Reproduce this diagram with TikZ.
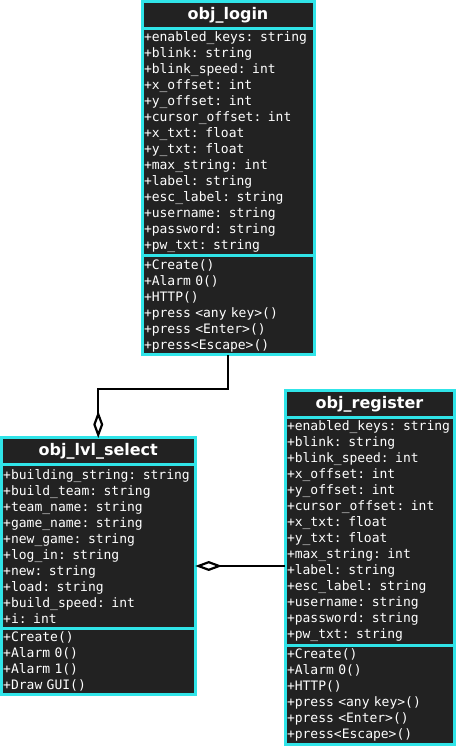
\documentclass[tikz,border=0pt]{standalone}
\usepackage{fontspec}
\setmainfont{DejaVu Sans}
\setmonofont{DejaVu Sans Mono}
\usetikzlibrary{positioning, arrows.meta, calc}
\definecolor{umlcyan}{RGB}{48,228,232}
\definecolor{umldark}{RGB}{34,34,34}

\begin{document}
\begin{tikzpicture}[x=1bp, y=1bp,
    classname/.style={draw=umlcyan, fill=umldark, line width=3bp, outer sep=0pt, text=white, font=\bfseries\fontsize{16bp}{18bp}\selectfont, align=center, text width=#1, inner xsep=2bp, inner ysep=0pt, minimum height=27bp},
    members/.style 2 args={draw=umlcyan, fill=umldark, line width=3bp, outer sep=0pt, text=white, font=\ttfamily\fontsize{13bp}{16bp}\selectfont, align=left, text width=#1, inner xsep=2bp, inner ysep=0pt, minimum height=#2},
    aggregation/.style={-{Diamond[open, length=27bp, width=10bp]}, line width=2.2bp, black}]
    \useasboundingbox (0, 0) rectangle (458, 748);

    % obj_login
    \node (loginname) [classname=168bp, anchor=north] at (228, 746) {obj\_login};
    \node (loginattr) [members={168bp}{227bp}, below=0pt of loginname] {+enabled\_keys: string\\+blink: string\\+blink\_speed: int\\+x\_offset: int\\+y\_offset: int\\+cursor\_offset: int\\+x\_txt: float\\+y\_txt: float\\+max\_string: int\\+label: string\\+esc\_label: string\\+username: string\\+password: string\\+pw\_txt: string};
    \node (loginmeth) [members={168bp}{99bp}, below=0pt of loginattr] {+Create()\\+Alarm 0()\\+HTTP()\\+press <any key>()\\+press <Enter>()\\+press<Escape>()};

    % obj_lvl_select
    \node (lvlname) [classname=190bp, anchor=north] at (98.25, 310) {obj\_lvl\_select};
    \node (lvlattr) [members={190bp}{163bp}, below=0pt of lvlname] {+building\_string: string\\+build\_team: string\\+team\_name: string\\+game\_name: string\\+new\_game: string\\+log\_in: string\\+new: string\\+load: string\\+build\_speed: int\\+i: int};
    \node (lvlmeth) [members={190bp}{66bp}, below=0pt of lvlattr] {+Create()\\+Alarm 0()\\+Alarm 1()\\+Draw GUI()};

    % obj_register
    \node (regname) [classname=165bp, anchor=north] at (369.5, 357) {obj\_register};
    \node (regattr) [members={165bp}{227bp}, below=0pt of regname] {+enabled\_keys: string\\+blink: string\\+blink\_speed: int\\+x\_offset: int\\+y\_offset: int\\+cursor\_offset: int\\+x\_txt: float\\+y\_txt: float\\+max\_string: int\\+label: string\\+esc\_label: string\\+username: string\\+password: string\\+pw\_txt: string};
    \node (regmeth) [members={165bp}{99bp}, below=0pt of regattr] {+Create()\\+Alarm 0()\\+HTTP()\\+press <any key>()\\+press <Enter>()\\+press<Escape>()};

    \coordinate (lvlmid) at ($(lvlname.north east)!.5!(lvlmeth.south east)$);

    \draw [aggregation] (loginmeth.south) -- ++(0, -34) -| (lvlname.north);
    \draw [aggregation] (regattr.west |- lvlmid) -- (lvlmid);
\end{tikzpicture}
\end{document}
